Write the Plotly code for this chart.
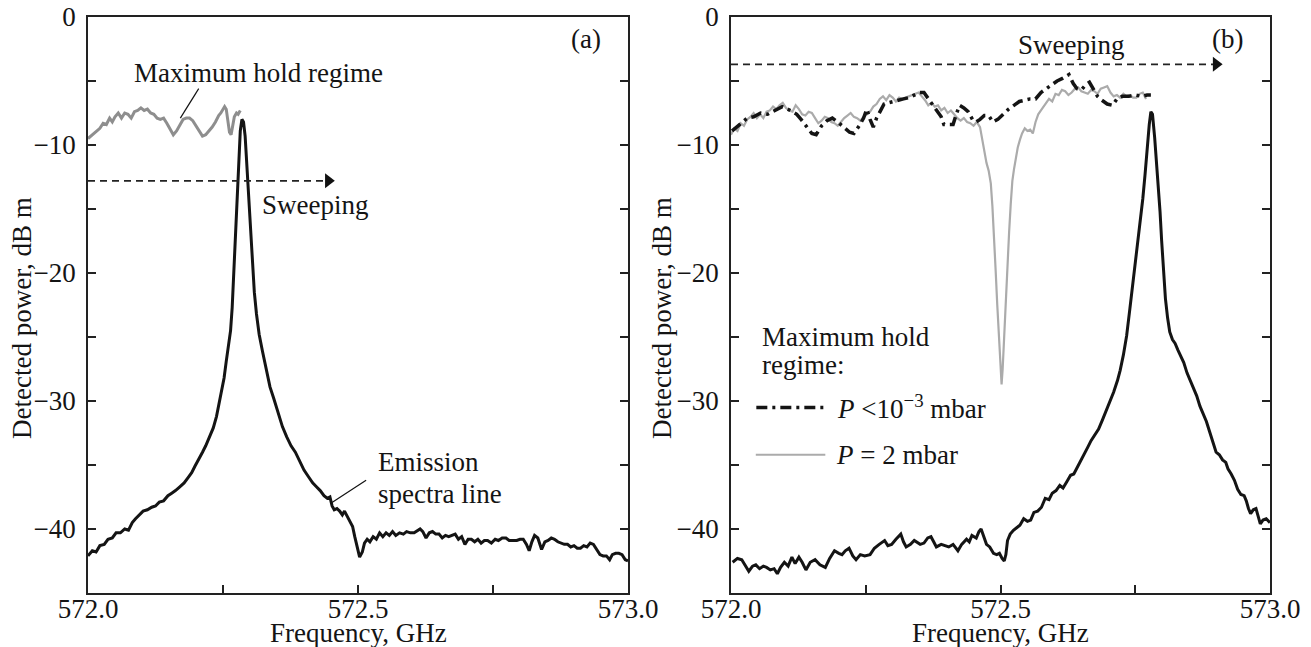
import plotly.graph_objects as go

# ---------------- data ----------------
# Panel (a): emission spectra line (black)
freq_a_line = [572.000, 572.008, 572.015, 572.022, 572.030, 572.037, 572.045, 572.052, 572.060, 572.068,
               572.075, 572.082, 572.088, 572.095, 572.102, 572.110, 572.118, 572.125, 572.132, 572.140,
               572.148, 572.155, 572.162, 572.170, 572.178, 572.185, 572.192, 572.198, 572.205, 572.212,
               572.218, 572.225, 572.232, 572.238, 572.243, 572.248, 572.252, 572.256, 572.260, 572.264,
               572.267, 572.270, 572.273, 572.276, 572.279, 572.282, 572.285, 572.288, 572.291, 572.294,
               572.297, 572.300, 572.304, 572.308, 572.312, 572.317, 572.323, 572.330, 572.337, 572.344,
               572.352, 572.360, 572.368, 572.376, 572.384, 572.392, 572.400, 572.408, 572.416, 572.423,
               572.430, 572.437, 572.443, 572.448, 572.452, 572.456, 572.461, 572.466, 572.471, 572.475,
               572.480, 572.486, 572.490, 572.494, 572.498, 572.503, 572.508, 572.512, 572.517, 572.522,
               572.528, 572.534, 572.540, 572.546, 572.552, 572.558, 572.564, 572.570, 572.577, 572.584,
               572.590, 572.597, 572.604, 572.610, 572.615, 572.620, 572.626, 572.632, 572.638, 572.644,
               572.650, 572.656, 572.662, 572.668, 572.674, 572.680, 572.686, 572.692, 572.698, 572.704,
               572.710, 572.716, 572.722, 572.728, 572.734, 572.740, 572.747, 572.754, 572.760, 572.767,
               572.774, 572.780, 572.787, 572.794, 572.800, 572.806, 572.812, 572.817, 572.822, 572.827,
               572.833, 572.840, 572.846, 572.852, 572.858, 572.864, 572.870, 572.876, 572.882, 572.888,
               572.894, 572.900, 572.906, 572.912, 572.918, 572.924, 572.930, 572.936, 572.942, 572.948,
               572.954, 572.960, 572.966, 572.971, 572.977, 572.983, 572.989, 572.995, 573.000]
power_a_line = [-42.1, -41.7, -41.8, -41.3, -41.2, -40.8, -40.7, -40.3, -40.3, -40.0,
                -40.1, -39.5, -39.2, -38.9, -38.6, -38.5, -38.3, -38.2, -37.9, -37.8,
                -37.4, -37.2, -37.0, -36.7, -36.4, -36.0, -35.6, -35.1, -34.6, -34.0,
                -33.5, -32.8, -32.1, -31.2, -30.2, -29.2, -28.2, -26.9, -25.8, -24.5,
                -22.7, -20.0, -17.0, -13.5, -10.8, -8.9, -8.0, -8.2, -9.3, -11.5,
                -13.8, -16.5, -19.2, -21.5, -23.2, -24.8, -26.1, -27.6, -28.9, -29.8,
                -30.9, -32.0, -32.8, -33.5, -34.0, -34.7, -35.4, -35.9, -36.4, -36.7,
                -37.0, -37.4, -37.6, -37.5, -38.2, -38.5, -38.4, -38.6, -38.9, -38.6,
                -39.0, -39.4, -39.8, -40.6, -41.4, -42.2, -41.8, -41.1, -40.8, -41.0,
                -40.6, -40.8, -40.3, -40.6, -40.3, -40.5, -40.2, -40.5, -40.3, -40.4,
                -40.2, -40.3, -40.3, -40.1, -40.0, -40.2, -40.7, -40.3, -40.2, -40.4,
                -40.4, -40.7, -40.5, -40.6, -40.5, -40.4, -40.8, -40.6, -41.2, -40.8,
                -40.8, -41.0, -40.8, -41.1, -40.9, -40.9, -41.1, -40.8, -40.9, -40.7,
                -40.7, -40.9, -40.9, -40.9, -40.8, -40.8, -41.2, -41.7, -41.0, -40.5,
                -40.7, -41.6, -41.0, -40.9, -40.7, -40.8, -41.0, -41.1, -41.2, -41.2,
                -41.4, -41.3, -41.5, -41.5, -41.3, -41.4, -41.1, -41.2, -41.6, -42.0,
                -42.1, -42.1, -42.4, -42.0, -41.9, -41.9, -42.0, -42.4, -42.5]

# Panel (a): maximum hold regime (gray)
freq_a_hold = [572.000, 572.008, 572.015, 572.022, 572.028, 572.034, 572.040, 572.045, 572.050, 572.056,
               572.062, 572.068, 572.074, 572.080, 572.086, 572.092, 572.098, 572.104, 572.110, 572.116,
               572.122, 572.128, 572.134, 572.140, 572.146, 572.152, 572.158, 572.164, 572.170, 572.176,
               572.182, 572.188, 572.194, 572.200, 572.206, 572.212, 572.218, 572.224, 572.230, 572.236,
               572.242, 572.246, 572.250, 572.253, 572.256, 572.259, 572.262, 572.265, 572.268, 572.271,
               572.275, 572.278, 572.282]
power_a_hold = [-9.5, -9.2, -8.9, -8.7, -8.3, -8.4, -7.9, -8.2, -7.8, -7.5,
                -7.9, -7.5, -7.6, -7.9, -7.4, -7.3, -7.1, -7.3, -7.2, -7.5,
                -7.6, -7.9, -8.0, -7.9, -8.3, -8.8, -9.2, -8.9, -8.4, -8.0,
                -7.9, -7.9, -8.1, -8.5, -9.0, -9.3, -9.2, -8.9, -8.6, -8.2,
                -7.7, -7.5, -7.2, -7.0, -7.2, -8.0, -9.0, -9.2, -8.5, -7.8,
                -7.5, -7.6, -7.3]

# Panel (b): emission spectra line (black)
freq_b_line = [572.003, 572.012, 572.020, 572.027, 572.033, 572.040, 572.046, 572.053, 572.060, 572.066,
               572.073, 572.080, 572.086, 572.092, 572.099, 572.106, 572.113, 572.119, 572.126, 572.132,
               572.139, 572.147, 572.156, 572.165, 572.175, 572.183, 572.192, 572.200, 572.206, 572.212,
               572.219, 572.226, 572.232, 572.240, 572.248, 572.258, 572.266, 572.275, 572.285, 572.291,
               572.298, 572.306, 572.315, 572.320, 572.325, 572.333, 572.340, 572.351, 572.358, 572.365,
               572.371, 572.376, 572.381, 572.390, 572.397, 572.404, 572.412, 572.421, 572.428, 572.437,
               572.442, 572.447, 572.455, 572.460, 572.464, 572.469, 572.474, 572.480, 572.487, 572.493,
               572.498, 572.503, 572.507, 572.510, 572.513, 572.518, 572.524, 572.530, 572.536, 572.543,
               572.550, 572.556, 572.562, 572.569, 572.576, 572.583, 572.590, 572.596, 572.603, 572.610,
               572.616, 572.623, 572.630, 572.636, 572.643, 572.650, 572.656, 572.662, 572.668, 572.675,
               572.682, 572.689, 572.695, 572.702, 572.710, 572.717, 572.722, 572.728, 572.734, 572.740,
               572.745, 572.750, 572.755, 572.759, 572.764, 572.768, 572.772, 572.776, 572.779, 572.782,
               572.786, 572.790, 572.793, 572.796, 572.799, 572.802, 572.806, 572.810, 572.814, 572.819,
               572.824, 572.829, 572.834, 572.840, 572.846, 572.852, 572.858, 572.864, 572.870, 572.876,
               572.882, 572.888, 572.895, 572.900, 572.906, 572.912, 572.918, 572.922, 572.928, 572.934,
               572.940, 572.946, 572.952, 572.956, 572.960, 572.964, 572.969, 572.974, 572.978, 572.982,
               572.987, 572.993, 573.000]
power_b_line = [-42.6, -42.3, -42.4, -42.9, -43.3, -42.9, -42.8, -43.1, -42.9, -43.0,
                -43.2, -43.1, -43.5, -43.0, -42.6, -42.9, -42.2, -42.7, -42.2, -42.6,
                -43.2, -42.6, -42.4, -42.8, -43.0, -42.3, -41.7, -41.9, -42.0, -41.7,
                -41.5, -42.1, -42.4, -42.0, -42.1, -42.0, -41.5, -41.2, -40.9, -41.3,
                -41.2, -40.8, -40.4, -41.0, -41.4, -41.2, -40.9, -41.2, -41.1, -40.7,
                -40.6, -41.0, -41.4, -41.2, -41.3, -41.4, -41.2, -41.7, -41.2, -40.8,
                -41.0, -40.5, -40.7, -40.2, -40.0, -40.6, -41.2, -41.4, -41.9, -42.0,
                -41.9, -42.3, -42.5, -42.0, -40.9, -40.4, -40.1, -39.9, -39.7, -39.2,
                -39.4, -39.3, -38.7, -38.6, -38.3, -37.6, -37.7, -37.2, -37.0, -36.6,
                -36.8, -36.3, -35.8, -35.7, -35.1, -34.6, -34.1, -33.6, -33.1, -32.6,
                -32.2, -31.5, -30.9, -30.2, -29.3, -28.4, -27.6, -26.4, -24.9, -22.8,
                -21.0, -19.6, -17.8, -16.3, -14.2, -12.4, -10.3, -8.4, -7.4, -7.6,
                -9.4, -11.6, -13.4, -15.2, -17.5, -19.8, -22.0, -23.5, -24.6, -25.2,
                -25.5, -26.0, -26.4, -27.0, -27.8, -28.4, -28.9, -29.6, -30.4, -31.0,
                -31.6, -32.4, -33.4, -34.0, -34.2, -34.6, -34.8, -35.3, -35.7, -36.2,
                -36.9, -37.3, -37.4, -37.8, -38.4, -38.8, -38.5, -38.4, -39.0, -39.6,
                -39.3, -39.2, -39.5]

# Panel (b): maximum hold, P < 1e-3 mbar (black dash-dot)
freq_b_vac = [572.002, 572.015, 572.030, 572.042, 572.055, 572.068, 572.080, 572.095, 572.110, 572.122,
              572.130, 572.140, 572.150, 572.158, 572.168, 572.178, 572.188, 572.198, 572.210, 572.220,
              572.228, 572.238, 572.246, 572.252, 572.258, 572.264, 572.270, 572.278, 572.284, 572.292,
              572.300, 572.310, 572.320, 572.330, 572.340, 572.350, 572.358, 572.366, 572.374, 572.382,
              572.390, 572.395, 572.403, 572.412, 572.418, 572.424, 572.432, 572.440, 572.448, 572.455,
              572.462, 572.470, 572.478, 572.486, 572.495, 572.505, 572.515, 572.525, 572.535, 572.545,
              572.555, 572.565, 572.575, 572.585, 572.595, 572.605, 572.615, 572.622, 572.627, 572.635,
              572.642, 572.650, 572.658, 572.665, 572.672, 572.680, 572.688, 572.698, 572.708, 572.716,
              572.726, 572.738, 572.750, 572.762, 572.772, 572.779]
power_b_vac = [-8.9, -8.4, -7.9, -7.8, -7.5, -7.6, -7.3, -7.0, -7.3, -7.6,
               -8.0, -8.6, -9.1, -9.2, -8.5, -8.1, -7.9, -8.2, -8.6, -9.0,
               -9.1, -8.5, -7.9, -7.2, -8.0, -8.6, -7.9, -7.2, -6.8, -6.7,
               -6.6, -6.5, -6.4, -6.3, -6.1, -5.9, -5.9, -6.4, -6.9, -7.3,
               -7.8, -8.4, -8.4, -8.4, -7.6, -6.9, -7.1, -7.4, -8.0, -8.2,
               -8.0, -7.7, -7.7, -8.2, -8.0, -7.6, -7.2, -6.9, -6.6, -6.5,
               -6.4, -6.4, -5.9, -5.6, -5.3, -5.0, -4.8, -4.6, -4.5, -5.2,
               -5.6, -5.7, -5.3, -5.1, -5.6, -6.2, -6.5, -6.8, -6.9, -6.4,
               -6.2, -6.2, -6.1, -6.2, -6.1, -6.1]

# Panel (b): maximum hold, P = 2 mbar (light gray)
freq_b_gas = [572.000, 572.006, 572.012, 572.018, 572.024, 572.030, 572.036, 572.042, 572.048, 572.054,
              572.060, 572.066, 572.072, 572.078, 572.084, 572.090, 572.096, 572.102, 572.108, 572.114,
              572.120, 572.126, 572.132, 572.138, 572.144, 572.150, 572.156, 572.162, 572.168, 572.174,
              572.180, 572.186, 572.192, 572.198, 572.204, 572.210, 572.216, 572.222, 572.228, 572.234,
              572.240, 572.246, 572.252, 572.258, 572.264, 572.270, 572.276, 572.282, 572.288, 572.294,
              572.300, 572.306, 572.312, 572.318, 572.324, 572.330, 572.336, 572.342, 572.348, 572.354,
              572.360, 572.366, 572.372, 572.378, 572.384, 572.390, 572.396, 572.402, 572.408, 572.414,
              572.420, 572.426, 572.432, 572.438, 572.444, 572.450, 572.456, 572.462, 572.466, 572.470,
              572.474, 572.478, 572.482, 572.485, 572.488, 572.491, 572.494, 572.497, 572.500, 572.502,
              572.504, 572.507, 572.510, 572.513, 572.516, 572.519, 572.522, 572.525, 572.528, 572.532,
              572.536, 572.540, 572.545, 572.550, 572.555, 572.560, 572.565, 572.570, 572.575, 572.580,
              572.585, 572.590, 572.596, 572.602, 572.608, 572.614, 572.620, 572.626, 572.632, 572.638,
              572.644, 572.650, 572.656, 572.662, 572.668, 572.674, 572.680, 572.686, 572.692, 572.698,
              572.704, 572.710, 572.716, 572.722, 572.728, 572.734, 572.740, 572.746, 572.752, 572.758,
              572.764, 572.770]
power_b_gas = [-9.2, -8.7, -8.9, -8.3, -8.5, -8.0, -7.8, -7.5, -7.9, -7.6,
               -7.9, -7.4, -7.3, -7.0, -7.2, -6.9, -6.7, -7.1, -7.3, -7.4,
               -6.9, -7.2, -7.6, -7.7, -7.4, -7.5, -7.9, -8.3, -8.1, -7.8,
               -7.9, -8.2, -8.3, -8.5, -8.2, -7.9, -7.7, -7.5, -7.8, -7.9,
               -8.1, -7.8, -7.6, -7.4, -7.0, -6.8, -6.4, -6.2, -6.5, -6.1,
               -6.3, -6.6, -6.3, -6.4, -6.3, -6.2, -6.1, -6.0, -5.9, -6.2,
               -6.5, -6.9, -6.7, -7.0, -6.9, -7.3, -7.1, -7.5, -7.3, -7.6,
               -7.9, -8.1, -7.9, -8.2, -8.3, -8.5, -8.2, -8.6, -9.5, -10.6,
               -11.4, -12.0, -13.0, -14.8, -17.0, -19.8, -22.5, -24.8, -26.8, -28.7,
               -27.5, -24.5, -21.8, -19.0, -16.8, -14.6, -12.8, -11.9, -11.0, -10.2,
               -9.6, -9.1, -8.7, -8.9, -8.8, -9.1, -8.2, -7.6, -7.3, -7.0,
               -6.6, -6.4, -6.6, -6.0, -6.1, -5.7, -5.8, -6.1, -5.9, -5.6,
               -5.5, -5.8, -5.9, -6.0, -5.7, -5.8, -6.0, -5.6, -5.5, -5.4,
               -5.9, -6.2, -6.1, -6.3, -6.0, -6.2, -6.1, -6.3, -6.3, -6.0,
               -5.9, -6.4]

# axis ticks
x_tickvals = [572.0, 572.25, 572.5, 572.75, 573.0]
x_ticktext = ["572.0", "", "572.5", "", "573.0"]
y_tickvals = [-40, -35, -30, -25, -20, -15, -10, -5, 0]
y_ticktext = ["\u221240", "", "\u221230", "", "\u221220", "", "\u221210", "", "0"]

# ---------------- styling ----------------
FONT = "Liberation Serif, Times New Roman, serif"
FS = 27
BLACK = "#141414"
W, H = 1311, 647

fig = go.Figure()

# panel (a)
fig.add_trace(go.Scatter(x=freq_a_hold, y=power_a_hold, mode="lines",
                         line=dict(color="#8e8e8e", width=3), xaxis="x", yaxis="y", showlegend=False))
fig.add_trace(go.Scatter(x=freq_a_line, y=power_a_line, mode="lines",
                         line=dict(color=BLACK, width=3), xaxis="x", yaxis="y", showlegend=False))
# panel (b)
fig.add_trace(go.Scatter(x=freq_b_gas, y=power_b_gas, mode="lines",
                         line=dict(color="#ababab", width=2.2), xaxis="x2", yaxis="y2", showlegend=False))
fig.add_trace(go.Scatter(x=freq_b_vac, y=power_b_vac, mode="lines",
                         line=dict(color=BLACK, width=3.5, dash="11px,5px,3px,5px"),
                         xaxis="x2", yaxis="y2", showlegend=False))
fig.add_trace(go.Scatter(x=freq_b_line, y=power_b_line, mode="lines",
                         line=dict(color=BLACK, width=3), xaxis="x2", yaxis="y2", showlegend=False))

# sweeping arrows (dashed line + arrow head)
sweep = [("x", "y", 572.0, 572.445, -12.8), ("x2", "y2", 572.0, 572.900, -3.7)]
for xr, yr, x0, x1, yv in sweep:
    fig.add_trace(go.Scatter(x=[x0, x1], y=[yv, yv], mode="lines",
                             line=dict(color="#222", width=1.6, dash="7px,5px"),
                             xaxis=xr, yaxis=yr, showlegend=False))
    fig.add_trace(go.Scatter(x=[x1], y=[yv], mode="markers",
                             marker=dict(symbol="triangle-right", size=13, color="#111"),
                             xaxis=xr, yaxis=yr, showlegend=False))

axis_common = dict(
    showgrid=False, zeroline=False, showline=True, linecolor="#222", linewidth=1.5,
    ticks="inside", ticklen=8, tickwidth=1.5, tickcolor="#222", automargin=False,
    tickfont=dict(family=FONT, size=FS, color=BLACK),
)
xa = dict(axis_common, range=[572.0, 573.0], tickvals=x_tickvals, ticktext=x_ticktext,
          mirror=True, ticklabelstandoff=-9)
ya = dict(axis_common, range=[-45, 0], tickvals=y_tickvals, ticktext=y_ticktext,
          mirror="ticks", ticklabelstandoff=5)

fig.update_layout(
    width=W, height=H,
    margin=dict(l=0, r=0, t=0, b=0),
    paper_bgcolor="white", plot_bgcolor="white",
    xaxis=dict(xa, domain=[88 / W, 628 / W], anchor="y"),
    yaxis=dict(ya, domain=[1 - 593 / H, 1 - 17 / H], anchor="x"),
    xaxis2=dict(xa, domain=[731 / W, 1270 / W], anchor="y2"),
    yaxis2=dict(ya, domain=[1 - 593 / H, 1 - 17 / H], anchor="x2"),
    font=dict(family=FONT, size=FS, color=BLACK),
    showlegend=False,
    hovermode=False,
)

def txt(text, x, y, xref, yref, xanchor="center", yanchor="middle", angle=0):
    fig.add_annotation(text=text, x=x, y=y, xref=xref, yref=yref, showarrow=False,
                       xanchor=xanchor, yanchor=yanchor, textangle=angle,
                       font=dict(family=FONT, size=FS, color=BLACK))

# axis titles
for cx in [(88 + 628) / 2 / W, (731 + 1270) / 2 / W]:
    txt("Frequency, GHz", cx, 1 - 633 / H, "paper", "paper")
for cx in [22 / W, 662 / W]:
    txt("Detected power, dB m", cx, 1 - 318 / H, "paper", "paper", angle=-90)

# panel (a) annotations
txt("(a)", 572.922, -1.7, "x", "y")
txt("Maximum hold regime", 572.315, -4.4, "x", "y")
txt("Sweeping", 572.42, -14.7, "x", "y")
txt("Emission", 572.534, -34.8, "x", "y", xanchor="left")
txt("spectra line", 572.534, -37.3, "x", "y", xanchor="left")
fig.add_shape(type="line", x0=572.205, y0=-5.6, x1=572.171, y1=-7.9, xref="x", yref="y",
              line=dict(color="#111", width=1.2))
fig.add_shape(type="line", x0=572.515, y0=-36.2, x1=572.449, y1=-38.0, xref="x", yref="y",
              line=dict(color="#111", width=1.2))

# panel (b) annotations
txt("(b)", 572.922, -1.7, "x2", "y2")
txt("Sweeping", 572.631, -2.2, "x2", "y2")
txt("Maximum hold", 572.054, -25.0, "x2", "y2", xanchor="left")
txt("regime:", 572.054, -27.2, "x2", "y2", xanchor="left")
fig.add_shape(type="line", x0=572.047, y0=-30.5, x1=572.178, y1=-30.5, xref="x2", yref="y2",
              line=dict(color=BLACK, width=3.5, dash="11px,5px,3px,5px"))
txt("<i>P</i> &lt;10<sup>\u22123</sup> mbar", 572.193, -30.5, "x2", "y2", xanchor="left")
fig.add_shape(type="line", x0=572.046, y0=-34.2, x1=572.175, y1=-34.2, xref="x2", yref="y2",
              line=dict(color="#ababab", width=2.2))
txt("<i>P</i> = 2 mbar", 572.191, -34.2, "x2", "y2", xanchor="left")

fig.write_html("out.html", config={"displayModeBar": False},
               post_script="document.body.style.margin='0px';")
